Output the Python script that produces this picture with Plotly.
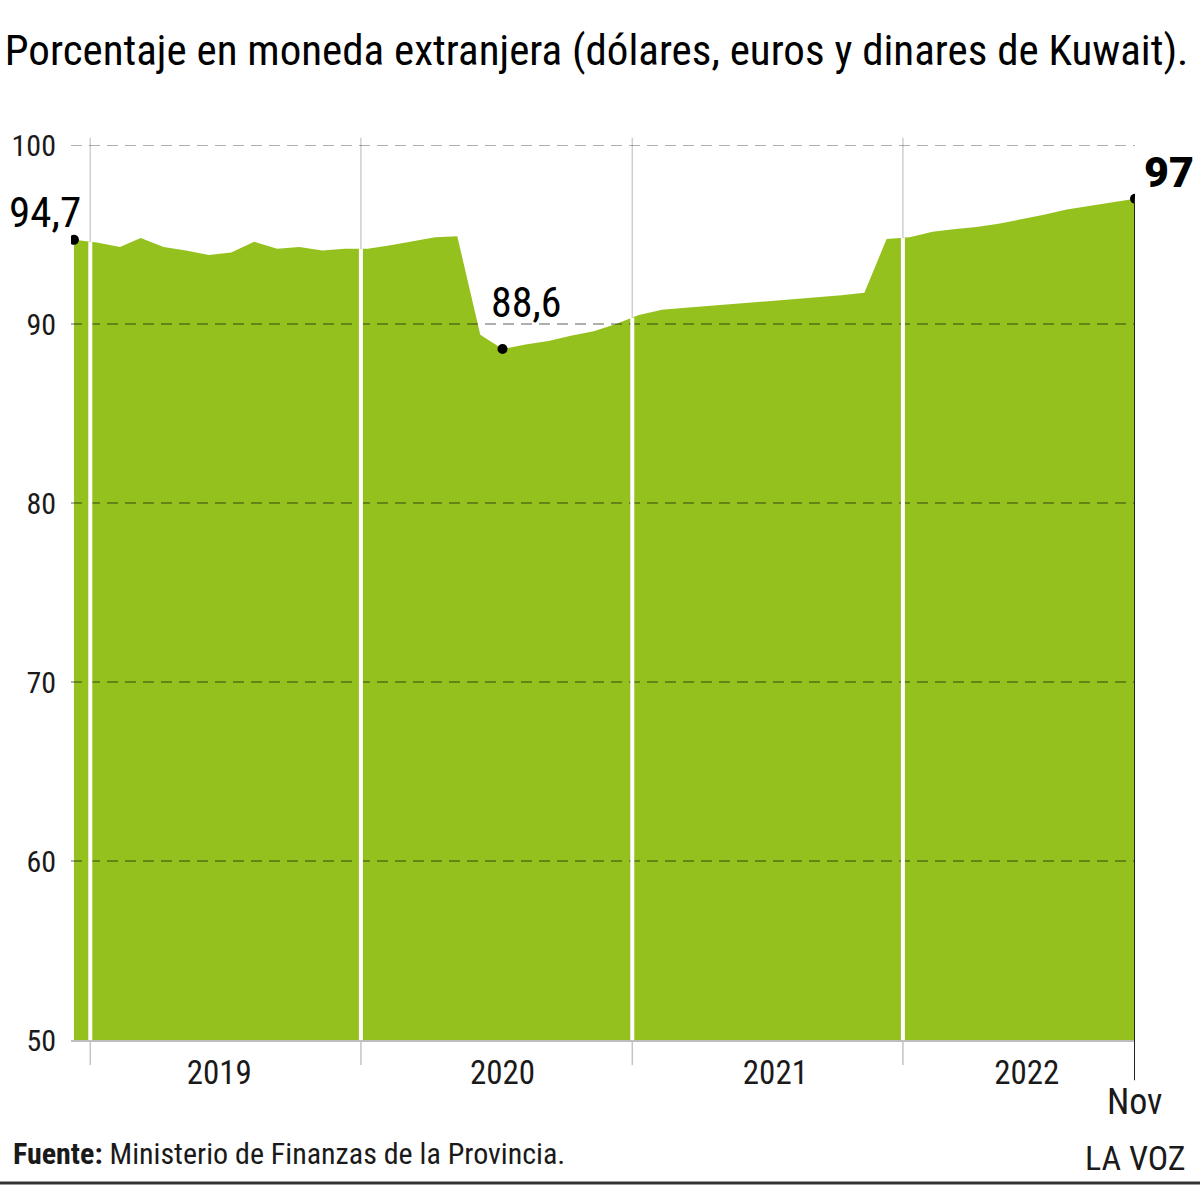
import numpy as np
import pandas as pd
import plotly.graph_objects as go

# ---------------- data ----------------
fechas = pd.date_range("2018-12-10", periods=48, freq=pd.DateOffset(months=1))
valores = [
    94.7,                                                     # dic 2018
    94.55, 94.3, 94.8, 94.3, 94.1, 93.85, 94.0, 94.6, 94.2, 94.3, 94.1, 94.2,   # 2019
    94.2, 94.4, 94.6, 94.85, 94.9, 89.4, 88.6, 88.85, 89.05, 89.35, 89.6, 90.0, # 2020
    90.5, 90.8, 90.9, 91.0, 91.1, 91.2, 91.3, 91.4, 91.5, 91.6, 91.75, 94.75,   # 2021
    94.85, 95.15, 95.3, 95.42, 95.6, 95.85, 96.1, 96.4, 96.6, 96.78, 97.0,      # 2022 (ene-nov)
]
etiquetas_anio = ["2019", "2020", "2021", "2022"]
pos_etiquetas_anio = ["2019-06-24", "2020-07-10", "2021-07-13", "2022-06-17"]
inicios_anio = ["2019-01-01", "2020-01-01", "2021-01-01", "2022-01-01"]
y_ticks = [50, 60, 70, 80, 90, 100]
etiquetas_puntos = ["94,7", "88,6", "97"]

titulo = "Porcentaje en moneda extranjera (dólares, euros y dinares de Kuwait)."
fuente = "<b>Fuente:</b> Ministerio de Finanzas de la Provincia."

# ---------------- style ----------------
VERDE = "#95c11f"
FONT = "Liberation Sans Narrow, Arial Narrow, Roboto Condensed, Roboto, sans-serif"
TXT = "#1a1a1a"

fig = go.Figure()

fig.add_trace(go.Scatter(
    x=fechas, y=valores, mode="lines", fill="tozeroy",
    fillcolor=VERDE, line=dict(width=0, color=VERDE), hoverinfo="skip"))

i_ini, i_min, i_fin = 0, int(np.argmin(valores)), len(valores) - 1
idx = [i_ini, i_min, i_fin]
fig.add_trace(go.Scatter(
    x=[fechas[i] for i in idx], y=[valores[i] for i in idx],
    mode="markers", marker=dict(color="black", size=10), hoverinfo="skip"))

shapes = []
# dashed gridlines (drawn above the area)
for v in y_ticks[1:]:
    shapes.append(dict(type="line", xref="paper", yref="y", x0=0, x1=1, y0=v, y1=v,
                       line=dict(color="rgba(0,0,0,0.42)", width=1.6, dash="11px,7px"),
                       layer="above"))

ts = np.array([t.value for t in fechas], dtype=float)
for b in inicios_anio:
    bt = float(pd.Timestamp(b).value)
    ytop = float(np.interp(bt, ts, valores))
    # light grey separator above area
    shapes.append(dict(type="line", xref="x", yref="paper", x0=b, x1=b, y0=0, y1=1.008,
                       line=dict(color="#cfcfcf", width=1.5), layer="below"))
    # white gap inside area
    shapes.append(dict(type="line", xref="x", yref="y", x0=b, x1=b, y0=50, y1=ytop,
                       line=dict(color="white", width=4), layer="above"))
    # small tick under axis
    shapes.append(dict(type="line", xref="x", yref="paper", x0=b, x1=b, y0=0, y1=-0.028,
                       line=dict(color="#c4c4c4", width=1.5), layer="above"))

# right vertical marker line
shapes.append(dict(type="line", xref="x", yref="y", x0=fechas[i_fin], x1=fechas[i_fin],
                   y0=50, y1=valores[i_fin], line=dict(color="#222", width=2), layer="above"))
shapes.append(dict(type="line", xref="x", yref="paper", x0=fechas[i_fin], x1=fechas[i_fin],
                   y0=0, y1=-0.045, line=dict(color="#222", width=2), layer="above"))
# bottom rule
shapes.append(dict(type="line", xref="paper", yref="paper", x0=-0.07, x1=1.07,
                   y0=-0.1598, y1=-0.1598, line=dict(color="#333", width=3)))

annotations = [
    dict(x=fechas[i_ini], y=valores[i_ini], xref="x", yref="y", text=etiquetas_puntos[0],
         showarrow=False, xanchor="center", yanchor="middle", xshift=-29, yshift=28,
         font=dict(family=FONT, size=43, color="black")),
    dict(x=fechas[i_min], y=valores[i_min], xref="x", yref="y", text=etiquetas_puntos[1],
         showarrow=False, xanchor="center", yanchor="middle", xshift=23, yshift=47,
         font=dict(family=FONT, size=42, color="black")),
    dict(x=fechas[i_fin], y=valores[i_fin], xref="x", yref="y", text=etiquetas_puntos[2],
         showarrow=False, xanchor="center", yanchor="middle", xshift=34, yshift=27,
         font=dict(family="Roboto, sans-serif", size=43, color="black", weight=900)),
    dict(x=fechas[i_fin], y=-0.0693, xref="x", yref="paper", text="Nov",
         showarrow=False, xanchor="center", yanchor="middle",
         font=dict(family=FONT, size=36, color=TXT)),
    dict(x=1.0497, y=-0.1318, xref="paper", yref="paper", text="LA VOZ",
         showarrow=False, xanchor="right", yanchor="middle",
         font=dict(family=FONT, size=34, color=TXT)),
    dict(x=-0.0562, y=-0.1263, xref="paper", yref="paper", text=fuente,
         showarrow=False, xanchor="left", yanchor="middle",
         font=dict(family=FONT, size=30, color=TXT)),
]

fig.update_layout(
    width=1200, height=1187,
    margin=dict(l=68, r=65, t=145, b=147),
    paper_bgcolor="white", plot_bgcolor="white",
    showlegend=False,
    title=dict(text=titulo, xref="container", yref="container", x=0.004, xanchor="left",
               y=1 - 50 / 1187, yanchor="middle",
               font=dict(family=FONT, size=43, color="black")),
    xaxis=dict(type="date", range=["2018-12-06", "2022-11-10"],
               tickvals=pos_etiquetas_anio, ticktext=etiquetas_anio,
               showgrid=False, zeroline=False, showline=True, linecolor="#bdbdbd",
               linewidth=1.5, ticks="", ticklabelstandoff=3,
               tickfont=dict(family=FONT, size=33, color=TXT)),
    yaxis=dict(range=[50, 100], tickvals=y_ticks, showgrid=False, zeroline=False,
               showline=False, ticks="", ticklabelstandoff=14,
               tickfont=dict(family=FONT, size=30, color=TXT)),
    shapes=shapes, annotations=annotations,
)

fig.write_html("out.html")
